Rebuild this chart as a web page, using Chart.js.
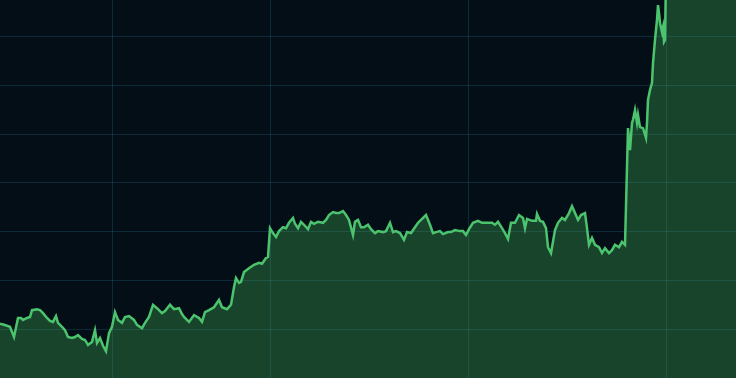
<!DOCTYPE html>
<html>
  <head>
    <meta charset="utf-8" />
    <title>Price chart</title>
    <script src="https://cdn.jsdelivr.net/npm/chart.js@4/dist/chart.umd.min.js"></script>
    <style>
      html, body { margin: 0; padding: 0; background: #040e16; overflow: hidden; }
      #chartBox { width: 736px; height: 378px; }
    </style>
  </head>
  <body>
    <div id="chartBox"><canvas id="priceChart" width="736" height="378"></canvas></div>

    <script type="text/javascript">
      // trading day of each sample
      const days = [
        0, 2, 5, 7, 9, 10.5, 11.5, 13.5, 15, 16,
        18.5, 20, 21.5, 23.5, 25, 26.5, 28, 29, 31, 32.5,
        34, 36, 37.5, 39, 41, 42.5, 44, 46, 47.5, 48.5,
        50, 51.5, 53, 54.5, 56, 57.5, 59, 61, 62.5, 64.5,
        67, 68.5, 71, 72.5, 74.5, 76.5, 78.5, 81, 82.5, 85,
        87, 89.5, 91, 92, 94.5, 97, 99.5, 101, 102.5, 104.5,
        107, 109.5, 111, 113.5, 115.5, 117, 118, 119.5, 120.5, 122,
        124.5, 127, 129.5, 131, 133, 134, 135, 136.5, 138, 139.5,
        141.5, 143, 144.5, 146.5, 147.5, 149, 150.5, 152, 154, 155.5,
        157, 159, 161.5, 163, 164.5, 166.5, 168, 169.5, 171.5, 173,
        174.5, 176.5, 177.5, 179, 180.5, 182, 184, 185.5, 187.5, 189,
        191.5, 193, 195, 196.5, 198, 200, 202, 203.5, 205.5, 207.5,
        209, 210.5, 213, 215, 216.5, 218, 220, 221.5, 224, 225.5,
        227.5, 230, 231.5, 233, 234.5, 236.5, 239, 241, 243.5, 246,
        247.5, 249, 251, 252.5, 254, 255.5, 257.5, 259.5, 261.5, 262.5,
        263.5, 266, 268, 268.5, 270, 271.5, 273, 274, 275.5, 277.5,
        279, 281, 282.5, 284.5, 286, 287.5, 289, 290.5, 292.5, 293.5,
        294.5, 296, 297.5, 299.5, 301, 302.5, 304.5, 306, 307.5, 309.5,
        311, 312.5, 313.5, 314, 315, 316, 316.5, 317.5, 318.5, 319,
        320, 321.5, 323, 323.5, 324, 325, 326, 326.5, 327.5, 328.5,
        329, 329.5, 330, 331, 331.5, 332, 332.5, 333.5, 350, 368,
      ];

      const prices = [
        11.1, 10.9, 10.5, 8.4, 12.3, 12.3, 11.9, 12.3, 12.5, 13.9,
        14.1, 13.9, 13.3, 12.3, 11.7, 11.5, 12.7, 11.3, 10.5, 9.8,
        8.4, 8.2, 8.4, 8.8, 8.0, 7.8, 6.8, 7.4, 9.8, 7.2,
        8.2, 6.6, 5.5, 9.2, 10.5, 13.5, 11.9, 11.3, 12.5, 12.7,
        11.9, 10.9, 10.2, 11.3, 12.5, 15.0, 14.3, 13.3, 13.7, 15.0,
        14.1, 14.3, 13.1, 12.5, 11.5, 12.9, 12.3, 11.5, 13.5, 13.9,
        14.5, 16.0, 14.5, 14.1, 15.0, 18.6, 20.5, 19.5, 19.7, 21.7,
        22.5, 23.2, 23.6, 23.4, 24.6, 24.8, 30.7, 29.7, 28.9, 30.1,
        30.9, 30.7, 31.8, 32.8, 31.6, 30.7, 32.0, 31.4, 30.5, 32.0,
        31.6, 32.0, 31.8, 32.4, 33.4, 34.0, 33.8, 33.8, 34.2, 33.4,
        32.4, 29.3, 32.0, 32.4, 30.9, 30.9, 31.4, 30.5, 29.7, 30.1,
        29.9, 30.1, 31.8, 29.9, 30.1, 29.7, 28.3, 29.9, 29.7, 30.9,
        31.8, 32.4, 33.4, 31.4, 29.7, 29.9, 30.1, 29.5, 29.9, 29.9,
        30.3, 30.1, 30.1, 29.3, 30.5, 31.8, 32.2, 31.8, 31.8, 31.8,
        31.4, 32.0, 30.7, 29.7, 28.5, 31.8, 31.8, 33.4, 32.8, 30.7,
        32.6, 32.2, 32.2, 33.6, 32.2, 32.0, 30.7, 26.8, 25.6, 30.3,
        31.8, 32.8, 32.4, 33.8, 35.2, 33.8, 32.4, 33.4, 33.8, 30.7,
        27.3, 28.7, 27.3, 26.8, 25.6, 26.6, 25.6, 26.2, 27.3, 26.8,
        27.9, 27.3, 43.2, 51.2, 46.7, 52.3, 52.9, 54.9, 52.3, 53.9,
        51.4, 51.2, 49.2, 52.3, 57.0, 59.0, 60.5, 64.5, 69.3, 73.4,
        76.4, 74.8, 72.7, 70.9, 71.9, 68.9, 69.3, 95.0, 98.0, 96.0,
      ];

      // grid positions
      const dayGrid = [56.5, 135, 234, 333];
      const priceGrid = [10, 20, 30, 40, 50, 60, 70];

      const points = days.map((d, i) => ({ x: d, y: prices[i] }));

      const gridColor = "rgba(30, 90, 120, 0.38)";

      const chart = new Chart(document.getElementById("priceChart"), {
        type: "line",
        data: {
          datasets: [
            {
              data: points,
              borderColor: "#4cc46e",
              borderWidth: 2.5,
              backgroundColor: "rgba(70, 180, 90, 0.33)",
              fill: "start",
              pointRadius: 0,
              tension: 0,
            },
          ],
        },
        options: {
          responsive: false,
          animation: false,
          layout: { padding: 0 },
          plugins: { legend: { display: false }, tooltip: { enabled: false } },
          scales: {
            x: {
              type: "linear",
              min: 0,
              max: 368,
              afterBuildTicks: (scale) => {
                scale.ticks = dayGrid.map((v) => ({ value: v }));
              },
              ticks: { display: false },
              grid: { color: gridColor, drawTicks: false, lineWidth: 1 },
              border: { display: false },
            },
            y: {
              min: 0,
              max: 77.46,
              afterBuildTicks: (scale) => {
                scale.ticks = priceGrid.map((v) => ({ value: v }));
              },
              ticks: { display: false },
              grid: { color: gridColor, drawTicks: false, lineWidth: 1 },
              border: { display: false },
            },
          },
        },
      });
    </script>
  </body>
</html>
